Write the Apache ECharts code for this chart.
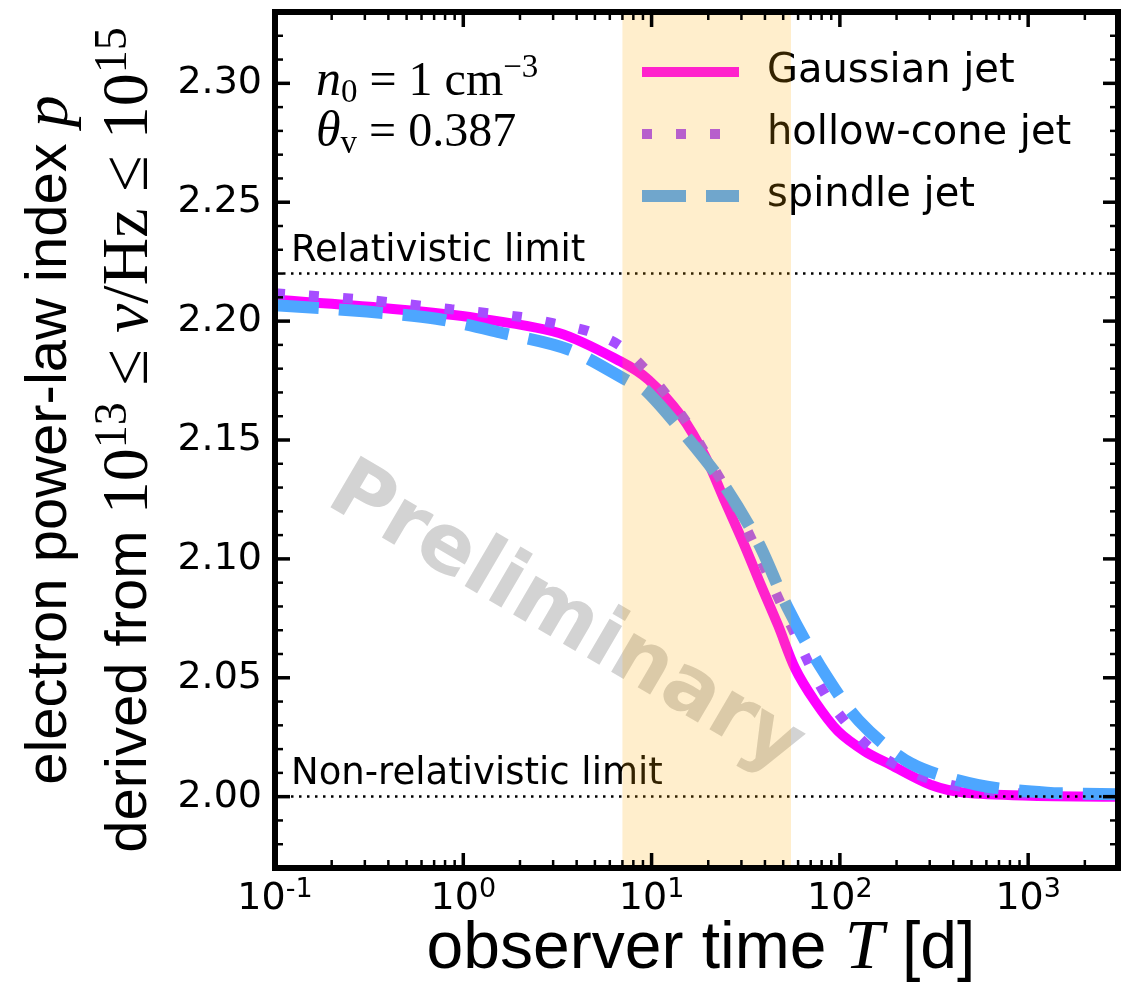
<!DOCTYPE html>
<html><head><meta charset="utf-8">
<script src="https://cdn.jsdelivr.net/npm/echarts@6/dist/echarts.min.js"></script>
<style>html,body{margin:0;padding:0;background:#fff}#c{width:1124px;height:988px}</style>
</head><body><div id="c"></div>
<script>
// ---- axis ranges ----
const xMin = 0.1, xMax = 3000;
const yMin = 1.97, yMax = 2.33;

// ---- series data (observer time T [d], electron index p) ----
const gaussT = [0.1, 0.318, 1.08, 3.22, 6.86, 9.64, 14.4, 19.3, 24.6, 31.4, 38.2, 47.0, 57.8, 73.8, 97.6, 136, 186, 303, 458, 1025, 3000];
const gaussP = [2.209, 2.206, 2.2017, 2.195, 2.183, 2.1753, 2.160, 2.143, 2.124, 2.105, 2.0887, 2.072, 2.054, 2.040, 2.0276, 2.019, 2.0134, 2.005, 2.0017, 2.0004, 2.0000];

const hollowT = [0.1, 0.3, 0.864, 2.03, 3.03, 4.58, 6.69, 9.18, 12.0, 15.5, 19.1, 28.8, 41.6, 59.2, 87.4, 153, 318, 775, 1816, 3000];
const hollowP = [2.2117, 2.209, 2.205, 2.2017, 2.199, 2.1958, 2.190, 2.180, 2.169, 2.157, 2.145, 2.120, 2.093, 2.0665, 2.0406, 2.019, 2.0067, 2.0017, 2.001, 2.0005];

const spindleT = [0.1, 0.307, 0.72, 1.61, 3.64, 7.84, 9.29, 14.4, 23.8, 36.8, 52.4, 78.4, 126, 238, 537, 1259, 3000];
const spindleP = [2.2067, 2.204, 2.201, 2.195, 2.188, 2.174, 2.171, 2.154, 2.132, 2.107, 2.080, 2.055, 2.032, 2.014, 2.005, 2.0017, 2.001];

// ---- reference lines and shaded band ----
const relLimit = 2.2222, nonRelLimit = 2.0;
const shadeRange = [7, 55];

// ---- ticks ----
const xMajorTicks = [0.1, 1, 10, 100, 1000];
const xMinorTicks = [];
for (let e = -1; e <= 3; e++) for (let k = 2; k <= 9; k++) { const v = k * Math.pow(10, e); if (v < xMax) xMinorTicks.push(v); }
const yMajorTicks = [2.00, 2.05, 2.10, 2.15, 2.20, 2.25, 2.30];
const yMinorTicks = [];
for (let k = 197; k <= 233; k++) if (k % 5 !== 0) yMinorTicks.push(k / 100);

const zip = (a, b) => a.map((v, i) => [v, b[i]]);
const tickData = [];
xMajorTicks.forEach(v => tickData.push([v, yMin, 0]));
xMinorTicks.forEach(v => tickData.push([v, yMin, 1]));
yMajorTicks.forEach(v => tickData.push([xMin, v, 2]));
yMinorTicks.forEach(v => tickData.push([xMin, v, 3]));

function renderTick(params, api) {
  const kind = api.value(2);
  const major = (kind === 0 || kind === 2);
  const len = major ? 15 : 8, lw = major ? 3.5 : 2.5;
  let segs;
  if (kind < 2) {
    const v = api.value(0);
    const pb = api.coord([v, yMin]), pt = api.coord([v, yMax]);
    segs = [[pb[0], pb[1], pb[0], pb[1] - len], [pt[0], pt[1], pt[0], pt[1] + len]];
  } else {
    const v = api.value(1);
    const pl = api.coord([xMin, v]), pr = api.coord([xMax, v]);
    segs = [[pl[0], pl[1], pl[0] + len, pl[1]], [pr[0], pr[1], pr[0] - len, pr[1]]];
  }
  return { type: 'group', children: segs.map(s => ({ type: 'line', shape: { x1: s[0], y1: s[1], x2: s[2], y2: s[3] }, style: { stroke: '#000', lineWidth: lw } })) };
}

const sans = 'DejaVu Sans';
const chart = echarts.init(document.getElementById('c'), null, { renderer: 'canvas' });
chart.setOption({
  animation: false,
  backgroundColor: '#fff',
  grid: { left: 275, right: 6, top: 12, bottom: 120, show: true, borderColor: '#000', borderWidth: 6, backgroundColor: 'transparent', z: 30 },
  xAxis: {
    type: 'log', logBase: 10, min: xMin, max: xMax,
    axisLine: { show: false }, axisTick: { show: false }, splitLine: { show: false }, minorTick: { show: false },
    axisLabel: {
      margin: 8, color: '#000',
      formatter: v => { const e = Math.log10(v); const r = Math.round(e); if (Math.abs(e - r) > 1e-6) return ''; return '{b|10}{s|' + r + '}'; },
      rich: {
        b: { fontFamily: sans, fontSize: 38, color: '#000' },
        s: { fontFamily: sans, fontSize: 27, color: '#000', padding: [0, 0, 20, 0] }
      }
    }
  },
  yAxis: {
    type: 'value', min: yMin, max: yMax, interval: 0.01,
    axisLine: { show: false }, axisTick: { show: false }, splitLine: { show: false },
    axisLabel: {
      margin: 13, color: '#000', fontFamily: sans, fontSize: 38,
      formatter: v => { const k = Math.round(v * 100); return (k % 5 === 0 && k >= 200 && k <= 230) ? (k / 100).toFixed(2) : ''; }
    }
  },
  legend: {
    orient: 'vertical', left: 631, top: 47, itemWidth: 97, itemHeight: 14, itemGap: 22,
    selectedMode: false,
    lineStyle: { width: 'inherit' },
    itemStyle: { opacity: 0 },
    textStyle: { fontFamily: sans, fontSize: 40, color: '#000', padding: [0, 0, 0, 23] },
    data: ['Gaussian jet', 'hollow-cone jet', 'spindle jet']
  },
  graphic: [
    { type: 'text', x: 565, y: 620, rotation: -0.53, z: 1, silent: true,
      style: { text: 'Preliminary', fill: '#d3d3d3', fontFamily: sans, fontWeight: 'bold', fontSize: 82, align: 'center', textAlign: 'center', verticalAlign: 'middle', textVerticalAlign: 'middle' } },
    { type: 'text', x: 316, y: 82, z: 40, silent: true,
      style: { text: '{i|n}{sub|0}{r| = 1 cm}{sup|\u22123}', fill: '#000', fontFamily: 'Liberation Serif', fontSize: 48, align: 'left', textAlign: 'left', verticalAlign: 'middle', textVerticalAlign: 'middle',
        rich: { i: { fontFamily: 'Liberation Serif', fontStyle: 'italic', fontSize: 50, fill: '#000' }, r: { fontFamily: 'Liberation Serif', fontSize: 48, fill: '#000' },
          sub: { fontFamily: 'Liberation Serif', fontSize: 33, fill: '#000', padding: [22, 0, 0, 0] }, sup: { fontFamily: 'Liberation Serif', fontSize: 33, fill: '#000', padding: [0, 0, 28, 0] } } } },
    { type: 'text', x: 316, y: 133, z: 40, silent: true,
      style: { text: '{i|\u03B8}{sub|v}{r| = 0.387}', fill: '#000', fontFamily: 'Liberation Serif', fontSize: 48, align: 'left', textAlign: 'left', verticalAlign: 'middle', textVerticalAlign: 'middle',
        rich: { i: { fontFamily: 'Liberation Serif', fontStyle: 'italic', fontSize: 50, fill: '#000' }, r: { fontFamily: 'Liberation Serif', fontSize: 48, fill: '#000' },
          sub: { fontFamily: 'Liberation Serif', fontSize: 33, fill: '#000', padding: [22, 0, 0, 0] } } } },
    { type: 'text', x: 50, y: 440, rotation: Math.PI / 2, silent: true,
      style: { text: 'electron power-law index {p|p}', fill: '#000', fontFamily: 'Liberation Sans', fontSize: 58, align: 'center', textAlign: 'center', verticalAlign: 'middle', textVerticalAlign: 'middle',
        rich: { p: { fontFamily: 'Liberation Serif', fontStyle: 'italic', fontSize: 64, fill: '#000' } } } },
    { type: 'text', x: 130, y: 440, rotation: Math.PI / 2, silent: true,
      style: { text: 'derived from {m|10}{sup|13}{m| \u2264 }{mi|\u03BD}{m|/Hz \u2264 10}{sup|15}', fill: '#000', fontFamily: 'Liberation Sans', fontSize: 58, align: 'center', textAlign: 'center', verticalAlign: 'middle', textVerticalAlign: 'middle',
        rich: { m: { fontFamily: 'Liberation Serif', fontSize: 66, fill: '#000' }, mi: { fontFamily: 'Liberation Serif', fontStyle: 'italic', fontSize: 66, fill: '#000' },
          sup: { fontFamily: 'Liberation Serif', fontSize: 46, fill: '#000', padding: [0, 0, 32, 0] } } } },
    { type: 'text', x: 701, y: 950, silent: true,
      style: { text: 'observer time {it|T} [d]', fill: '#000', fontFamily: 'Liberation Sans', fontSize: 66, align: 'center', textAlign: 'center', verticalAlign: 'middle', textVerticalAlign: 'middle',
        rich: { it: { fontFamily: 'Liberation Serif', fontStyle: 'italic', fontSize: 70, fill: '#000' } } } }
  ],
  series: [
    {
      name: 'Gaussian jet', type: 'line', data: zip(gaussT, gaussP), symbol: 'none', smooth: 0.3, z: 2,
      lineStyle: { color: '#ff00ff', width: 10, cap: 'butt' }, itemStyle: { color: '#ff00ff' },
      markLine: {
        silent: true, symbol: 'none', z: 8,
        lineStyle: { color: '#000', type: [2.5, 5.5], width: 2.5 },
        label: { show: true, position: 'insideStartTop', formatter: '{b}', fontFamily: sans, fontSize: 37, color: '#000', distance: [16, 4] },
        data: [{ name: 'Relativistic limit', yAxis: relLimit }, { name: 'Non-relativistic limit', yAxis: nonRelLimit }]
      },
      markArea: {
        silent: true, z: 20,
        itemStyle: { color: 'rgba(255,170,0,0.2)' },
        data: [[{ xAxis: shadeRange[0] }, { xAxis: shadeRange[1] }]]
      }
    },
    {
      name: 'hollow-cone jet', type: 'line', data: zip(hollowT, hollowP), symbol: 'none', smooth: 0.3, z: 3,
      lineStyle: { color: '#a64dff', width: 10, type: [10, 24], cap: 'butt' }, itemStyle: { color: '#a64dff' }
    },
    {
      name: 'spindle jet', type: 'line', data: zip(spindleT, spindleP), symbol: 'none', smooth: 0.3, z: 4,
      lineStyle: { color: '#4da6ff', width: 12, type: [44, 20], cap: 'butt' }, itemStyle: { color: '#4da6ff' }
    },
    {
      name: 'ticks', type: 'custom', data: tickData, renderItem: renderTick, clip: false, silent: true, z: 25,
      encode: { x: 0, y: 1 }
    }
  ]
});
</script></body></html>
